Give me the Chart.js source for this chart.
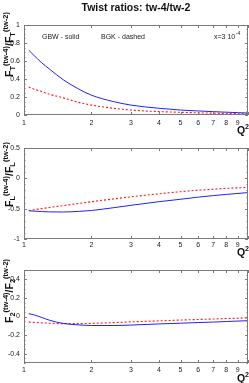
<!DOCTYPE html>
<html>
<head>
<meta charset="utf-8">
<script src="https://cdn.jsdelivr.net/npm/chart.js@4/dist/chart.umd.min.js"></script>
<style>
  html, body { margin: 0; padding: 0; background: #fff; }
  #wrap { position: relative; width: 249px; height: 383px; }
  canvas { position: absolute; left: 0; top: 0; }
</style>
</head>
<body>
<div id="wrap">
  <canvas id="c1" width="249" height="383"></canvas>
  <canvas id="c2" width="249" height="383"></canvas>
  <canvas id="c3" width="249" height="383"></canvas>
</div>
<script>
// ---- data ----
const Q2 = [1.05, 1.1, 1.2, 1.3, 1.5, 1.75, 2, 2.5, 3, 4, 5, 6, 7, 8, 10];
const ftGBW = [0.72, 0.67, 0.58, 0.51, 0.39, 0.29, 0.22, 0.15, 0.11, 0.075, 0.055, 0.045, 0.037, 0.031, 0.022];
const ftBGK = [0.31, 0.29, 0.26, 0.23, 0.19, 0.14, 0.11, 0.075, 0.055, 0.038, 0.03, 0.024, 0.02, 0.017, 0.012];
const flGBW = [-0.535, -0.54, -0.548, -0.553, -0.555, -0.545, -0.53, -0.485, -0.445, -0.385, -0.345, -0.31, -0.285, -0.265, -0.235];
const flBGK = [-0.53, -0.52, -0.50, -0.48, -0.45, -0.415, -0.385, -0.34, -0.305, -0.255, -0.22, -0.195, -0.18, -0.165, -0.15];
const f2GBW = [0.03, 0.02, -0.01, -0.04, -0.075, -0.09, -0.097, -0.097, -0.092, -0.08, -0.072, -0.065, -0.06, -0.054, -0.045];
const f2BGK = [-0.06, -0.063, -0.068, -0.072, -0.077, -0.077, -0.074, -0.066, -0.058, -0.047, -0.038, -0.032, -0.027, -0.022, -0.015];
const xTicks = [1, 2, 3, 4, 5, 6, 7, 8, 9];
const yTicksT = [0, 0.2, 0.4, 0.6, 0.8, 1];
const yTicksL = [-1, -0.5, 0, 0.5];
const yTicks2 = [-0.4, -0.2, 0, 0.2, 0.4];
const titleText = 'Twist ratios: tw-4/tw-2';
const legendTexts = ['GBW - solid', 'BGK - dashed'];

const FONT = '"Liberation Sans", Arial, Helvetica, sans-serif';
const FRAME = '#7a7a7a';
const BLUE = '#2020ff';
const RED = '#ff1a1a';
const XAXIS_H = 14;

function drawRich(ctx, parts) {
  let x = 0;
  for (const p of parts) {
    ctx.font = 'bold ' + p.size + 'px ' + FONT;
    ctx.fillText(p.t, x, p.dy);
    x += ctx.measureText(p.t).width;
  }
}

function makePanel(id, cfg) {
  const pts = arr => Q2.map((q, i) => ({ x: q, y: arr[i] }));
  const deco = {
    id: 'deco' + id,
    afterDraw(chart) {
      const ctx = chart.ctx;
      const a = chart.chartArea;
      const xs = chart.scales.x, ys = chart.scales.y;
      ctx.save();
      ctx.strokeStyle = FRAME;
      ctx.lineWidth = 1;
      ctx.strokeRect(a.left + 0.5, a.top + 0.5, a.right - a.left - 1, a.bottom - a.top - 1);
      ctx.beginPath();
      for (let v = 1; v <= 10; v++) {
        const px = Math.round(xs.getPixelForValue(v)) + 0.5;
        ctx.moveTo(px, a.bottom); ctx.lineTo(px, a.bottom - 3);
        ctx.moveTo(px, a.top); ctx.lineTo(px, a.top + 3);
      }
      const n = Math.round((cfg.max - cfg.min) / cfg.minor);
      for (let i = 0; i <= n; i++) {
        const v = cfg.min + i * cfg.minor;
        const major = cfg.yTicks.some(t => Math.abs(t - v) < 1e-6);
        const len = major ? 3 : 1.5;
        const py = Math.round(ys.getPixelForValue(v)) + 0.5;
        ctx.moveTo(a.left, py); ctx.lineTo(a.left + len, py);
        ctx.moveTo(a.right, py); ctx.lineTo(a.right - len, py);
      }
      ctx.stroke();

      // y axis label (rotated, with sub/superscripts)
      ctx.fillStyle = '#111';
      ctx.textBaseline = 'alphabetic';
      ctx.textAlign = 'left';
      ctx.save();
      ctx.translate(12.5, cfg.labelY);
      ctx.rotate(-Math.PI / 2);
      drawRich(ctx, [
        { t: 'F', size: 10.5, dy: 0 },
        { t: cfg.sub, size: 7.5, dy: 2.5 },
        { t: '(tw-4)', size: 7.5, dy: -4.5 },
        { t: '/F', size: 10.5, dy: 0 },
        { t: cfg.sub, size: 7.5, dy: 2.5 },
        { t: '(tw-2)', size: 7.5, dy: -4.5 }
      ]);
      ctx.restore();

      // Q^2 label
      ctx.font = 'bold 7px ' + FONT;
      const w2 = ctx.measureText('2').width;
      ctx.font = 'bold 10.5px ' + FONT;
      const wq = ctx.measureText('Q').width;
      const qx = 249 - w2 - wq;
      ctx.fillText('Q', qx, cfg.qY);
      ctx.font = 'bold 7px ' + FONT;
      ctx.fillText('2', qx + wq, cfg.qY - 5);

      if (cfg.top) {
        ctx.font = 'bold 10.5px ' + FONT;
        ctx.textAlign = 'center';
        ctx.fillText(titleText, (a.left + a.right) / 2, 10.5);
        ctx.textAlign = 'left';
        ctx.font = '7px ' + FONT;
        ctx.fillStyle = '#222';
        ctx.fillText(legendTexts[0], 42, 38.5);
        ctx.fillText(legendTexts[1], 101, 38.5);
        const s1 = 'x=3 10';
        ctx.fillText(s1, 214, 38.5);
        const w = ctx.measureText(s1).width;
        ctx.font = '5px ' + FONT;
        ctx.fillText('-4', 214 + w + 0.5, 35);
      }
      ctx.restore();
    }
  };
  return new Chart(document.getElementById(id), {
    type: 'line',
    data: {
      datasets: [
        { data: pts(cfg.gbw), borderColor: BLUE, borderWidth: 1, pointRadius: 0, cubicInterpolationMode: 'monotone', fill: false },
        { data: pts(cfg.bgk), borderColor: RED, borderWidth: 1.1, borderDash: [2, 2], pointRadius: 0, cubicInterpolationMode: 'monotone', fill: false }
      ]
    },
    options: {
      responsive: false,
      animation: false,
      devicePixelRatio: 1,
      layout: { padding: { left: 0, right: 1, top: cfg.padTop, bottom: cfg.padBottom - XAXIS_H } },
      plugins: { legend: { display: false }, tooltip: { enabled: false }, title: { display: false } },
      scales: {
        x: {
          type: 'logarithmic', min: 1, max: 10,
          afterBuildTicks: s => { s.ticks = xTicks.map(v => ({ value: v })); },
          afterFit: s => { s.height = XAXIS_H; },
          grid: { display: false, drawTicks: false },
          border: { display: false },
          ticks: { autoSkip: false, maxRotation: 0, padding: cfg.xPad, color: '#222', font: { size: 7, family: FONT }, callback: v => String(v) }
        },
        y: {
          type: 'linear', min: cfg.min, max: cfg.max,
          afterBuildTicks: s => { s.ticks = cfg.yTicks.map(v => ({ value: v })); },
          afterFit: s => { s.width = 24; },
          grid: { display: false, drawTicks: false },
          border: { display: false },
          ticks: { autoSkip: false, padding: 4, color: '#222', font: { size: 7, family: FONT }, callback: v => String(v) }
        }
      }
    },
    plugins: [deco]
  });
}

makePanel('c1', { gbw: ftGBW, bgk: ftBGK, min: 0, max: 1, yTicks: yTicksT, minor: 0.05,
  padTop: 25, padBottom: 268, xPad: 4, sub: 'T', labelY: 77, qY: 134, top: true });
makePanel('c2', { gbw: flGBW, bgk: flBGK, min: -1, max: 0.5, yTicks: yTicksL, minor: 0.1,
  padTop: 148, padBottom: 144, xPad: 1.5, sub: 'L', labelY: 207, qY: 256, top: false });
makePanel('c3', { gbw: f2GBW, bgk: f2BGK, min: -0.5, max: 0.5, yTicks: yTicks2, minor: 0.05,
  padTop: 270, padBottom: 20, xPad: 3, sub: '2', labelY: 323, qY: 382, top: false });
</script>
</body>
</html>
